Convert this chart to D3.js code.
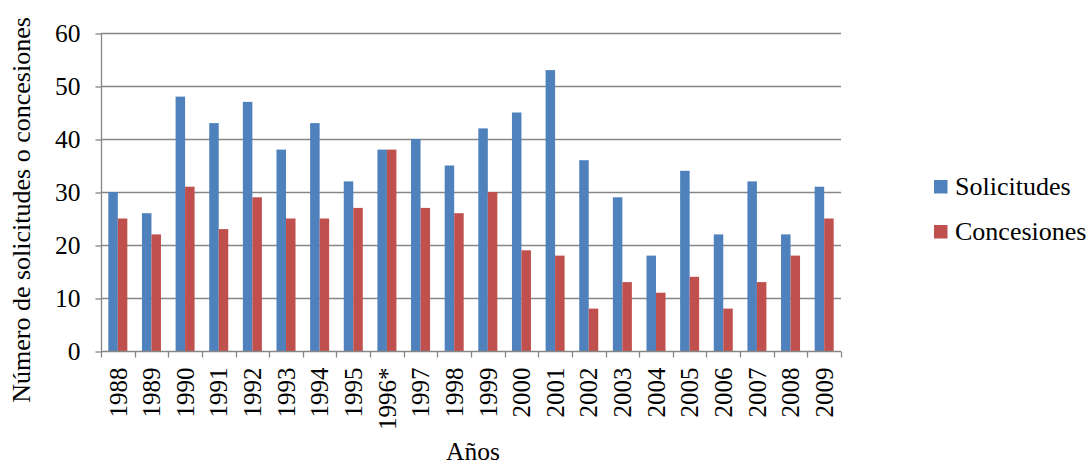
<!DOCTYPE html>
<html><head><meta charset="utf-8">
<script src="https://cdn.jsdelivr.net/npm/d3@7"></script>
</head><body style="margin:0;background:#fff"><svg id="c" width="1091" height="466" font-family="Liberation Serif" style="display:block"></svg>
<script>
const years = ["1988","1989","1990","1991","1992","1993","1994","1995","1996*","1997","1998","1999","2000","2001","2002","2003","2004","2005","2006","2007","2008","2009"];
const solicitudes = [30,26,48,43,47,38,43,32,38,40,35,42,45,53,36,29,18,34,22,32,22,31];
const concesiones = [25,22,31,23,29,25,25,27,38,27,26,30,19,18,8,13,11,14,8,13,18,25];
const seriesNames = ["Solicitudes","Concesiones"];
const seriesColors = ["#4F81BD","#C0504D"];
const yTicks = [0,10,20,30,40,50,60];

const FONT = "Liberation Serif";
const svg = d3.select("#c");
const L = 101, R = 841, T = 33, B = 351;
const x = d3.scaleBand().domain(years).range([L, R]).padding(0);
const y = d3.scaleLinear().domain([0, 60]).range([B, T]);
const groupFrac = 0.565;
const x1 = d3.scaleBand().domain(seriesNames).range([0, x.bandwidth()*groupFrac]);
const gridColor = "#868686";

// gridlines
svg.append("g").selectAll("line").data(yTicks.filter(d=>d>0)).join("line")
  .attr("x1", L).attr("x2", R).attr("y1", d=>y(d)+0.5).attr("y2", d=>y(d)+0.5)
  .attr("stroke", gridColor).attr("stroke-width", 1.3);

// bars
const data = years.map((yr,i)=>({yr, vals:[solicitudes[i], concesiones[i]]}));
const off = x.bandwidth()*(1-groupFrac)/2;
svg.append("g").selectAll("g").data(data).join("g")
  .attr("transform", d=>`translate(${x(d.yr)+off},0)`)
  .selectAll("rect").data(d=>d.vals.map((v,j)=>({v, s:seriesNames[j], c:seriesColors[j]}))).join("rect")
  .attr("x", d=>x1(d.s)).attr("width", x1.bandwidth())
  .attr("y", d=>y(d.v)).attr("height", d=>B - y(d.v))
  .attr("fill", d=>d.c);

// y axis
const yAxis = d3.axisLeft(y).tickValues(yTicks).tickSize(6).tickPadding(15).tickFormat(d3.format("d"));
const gy = svg.append("g").attr("transform", `translate(${L+0.5},0.5)`).call(yAxis)
  .attr("font-family", FONT).attr("font-size", 25.5);
gy.select(".domain").attr("stroke", gridColor).attr("stroke-width",1.3).attr("d", `M0,${T}V${B}`);
gy.selectAll(".tick line").attr("stroke", gridColor).attr("stroke-width",1.3);
gy.selectAll(".tick text").attr("font-family", FONT).attr("font-size",25.5).attr("fill","#000");

// x axis
const gx = svg.append("g").attr("transform", `translate(0,${B+0.5})`);
gx.append("line").attr("x1", L).attr("x2", R).attr("stroke", gridColor).attr("stroke-width",1.3);
const bounds = years.map(d=>x(d)).concat([R]);
gx.selectAll("line.t").data(bounds).join("line").attr("class","t")
  .attr("x1", d=>Math.round(d)+0.5).attr("x2", d=>Math.round(d)+0.5).attr("y1",0).attr("y2",6)
  .attr("stroke", gridColor).attr("stroke-width",1.3);
gx.selectAll("text").data(years).join("text")
  .attr("transform", d=>`translate(${x(d)+x.bandwidth()/2},16) rotate(-90)`)
  .attr("text-anchor","end").attr("dy","0.35em")
  .attr("font-family", FONT).attr("font-size",25).attr("fill","#000").text(d=>d);

// axis titles
svg.append("text").attr("transform","translate(21,210) rotate(-90)")
  .attr("text-anchor","middle").attr("dy","0.35em")
  .attr("font-family", FONT).attr("font-size",26).attr("fill","#000")
  .text("Número de solicitudes o concesiones");
svg.append("text").attr("x",473).attr("y",460).attr("text-anchor","middle")
  .attr("font-family", FONT).attr("font-size",25.5).attr("fill","#000").text("Años");

// legend
const lg = svg.append("g").selectAll("g").data(seriesNames).join("g")
  .attr("transform",(d,i)=>`translate(934,${180+i*45})`);
lg.append("rect").attr("width",13.5).attr("height",13.5).attr("fill",(d,i)=>seriesColors[i]);
lg.append("text").attr("x",21).attr("y",15)
  .attr("font-family", FONT).attr("font-size",26).attr("fill","#000").text(d=>d);
</script></body></html>
